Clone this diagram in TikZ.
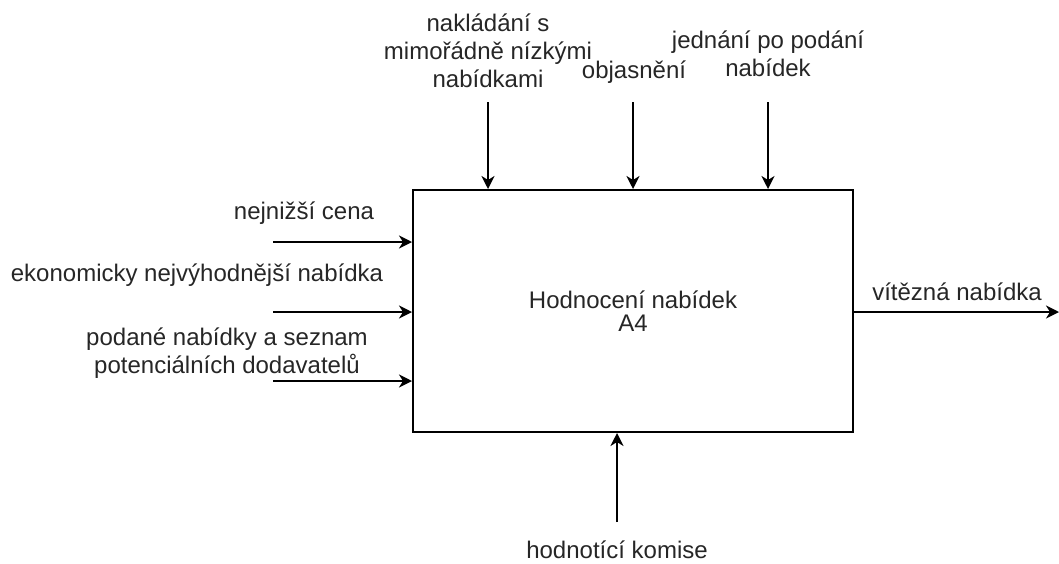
\documentclass[tikz,border=0pt]{standalone}
\usepackage{fontspec}
\setmainfont{Liberation Sans}
\usetikzlibrary{arrows.meta}
\begin{document}
\begin{tikzpicture}[x=1pt,y=-1pt,
  lbl/.style={inner sep=0pt,align=center,text=black!85,font=\fontsize{24}{28}\selectfont},
  flow/.style={line width=2pt,-{Stealth[length=13pt,width=13pt,inset=4pt]}},
  box/.style={draw,line width=2pt,minimum width=440pt,minimum height=242pt,inner sep=0pt,align=center,text=black!85,font=\fontsize{24}{23}\selectfont}]
\useasboundingbox (0,0) rectangle (1059,563);

% activity box
\node[box] (act) at (633,311) {Hodnocení nabídek\\A4};

% inputs (left)
\coordinate (i1) at (273,242);
\coordinate (i2) at (273,312);
\coordinate (i3) at (273,381);
\draw[flow] (i1) -- (i1 -| act.west);
\draw[flow] (i2) -- (i2 -| act.west);
\draw[flow] (i3) -- (i3 -| act.west);
\node[lbl] (li1) at (304,213) {nejnižší cena};
\node[lbl] (li2) at (197,275) {ekonomicky nejvýhodnější nabídka};
\node[lbl] (li3) at (227,353) {podané nabídky a seznam\\potenciálních dodavatelů};

% controls (top)
\coordinate (c1) at (488,102);
\coordinate (c2) at (633,102);
\coordinate (c3) at (768,102);
\draw[flow] (c1) -- (c1 |- act.north);
\draw[flow] (c2) -- (c2 |- act.north);
\draw[flow] (c3) -- (c3 |- act.north);
\node[lbl] (lc1) at (488,51) {nakládání s\\mimořádně nízkými\\nabídkami};
\node[lbl] (lc2) at (634,72) {objasnění};
\node[lbl] (lc3) at (768,54) {jednání po podání\\nabídek};

% output (right)
\coordinate (o1) at (1059,312);
\draw[flow] (o1 -| act.east) -- (o1);
\node[lbl] (lo1) at (957,292) {vítězná nabídka};

% mechanism (bottom)
\coordinate (m1) at (617,522);
\draw[flow] (m1) -- (m1 |- act.south);
\node[lbl] (lm1) at (617,550) {hodnotící komise};
\end{tikzpicture}
\end{document}
